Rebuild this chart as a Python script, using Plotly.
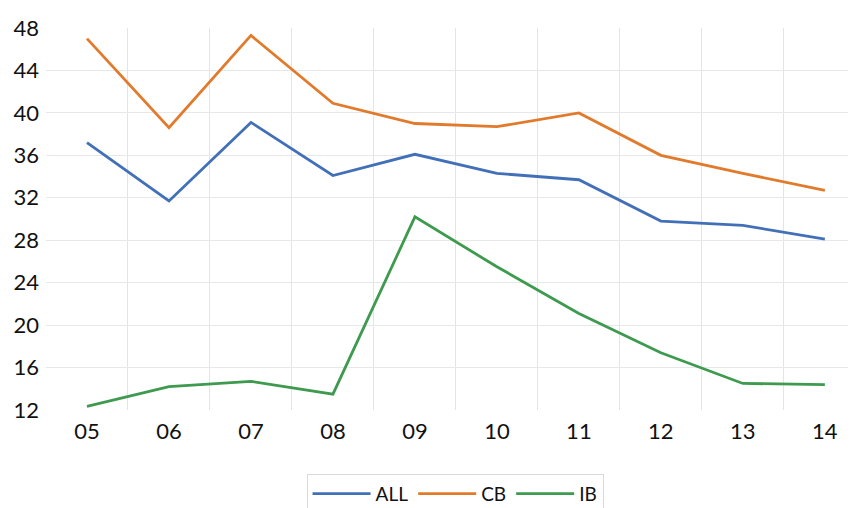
import plotly.graph_objects as go

categories = ["05", "06", "07", "08", "09", "10", "11", "12", "13", "14"]
all_vals = [37.2, 31.7, 39.1, 34.1, 36.1, 34.3, 33.7, 29.8, 29.4, 28.1]
cb_vals = [47.0, 38.6, 47.3, 40.9, 39.0, 38.7, 40.0, 36.0, 34.3, 32.7]
ib_vals = [12.35, 14.2, 14.7, 13.5, 30.2, 25.5, 21.1, 17.4, 14.5, 14.4]
y_ticks = [12, 16, 20, 24, 28, 32, 36, 40, 44, 48]
grid_y = y_ticks[1:-1]

series = [("ALL", all_vals, "#4270B8"), ("CB", cb_vals, "#E27A2C"), ("IB", ib_vals, "#3E9A4F")]
xpos = list(range(len(categories)))
xr = [-0.5, 9.38]
yr = [12, 48]

fig = go.Figure()
# empty trace to host the grid axes
fig.add_trace(go.Scatter(x=[], y=[], xaxis="x2", yaxis="y2", showlegend=False, hoverinfo="skip"))
for name, vals, color in series:
    fig.add_trace(go.Scatter(x=xpos, y=vals, name=name, mode="lines",
                             line=dict(color=color, width=2.8)))

font = "Lato, 'Open Sans', sans-serif"
fig.update_layout(
    width=848, height=500,
    margin=dict(l=38, r=0, t=20, b=98, autoexpand=False),
    plot_bgcolor="white", paper_bgcolor="white",
    font=dict(family=font, color="#111111", size=22),
    showlegend=True,
    legend=dict(orientation="h", x=0.505, xanchor="center", y=-0.167, yanchor="top",
                bordercolor="#D9D9D9", borderwidth=1, font=dict(size=19, family=font),
                itemwidth=58, tracegroupgap=0),
    xaxis=dict(range=xr, tickmode="array", tickvals=xpos, ticktext=categories,
               showgrid=False, zeroline=False, showline=False, ticks="",
               ticklabelstandoff=6, fixedrange=True, automargin=False),
    yaxis=dict(range=yr, tickmode="array", tickvals=y_ticks,
               showgrid=False, zeroline=False, showline=False, ticks="",
               ticklabelstandoff=6, fixedrange=True, automargin=False),
    xaxis2=dict(range=xr, overlaying="x", anchor="y2", tickmode="array",
                tickvals=[i + 0.5 for i in range(len(categories) - 1)],
                showgrid=True, gridcolor="#E4E4E4", gridwidth=1, automargin=False,
                showticklabels=False, zeroline=False, showline=False, ticks=""),
    yaxis2=dict(range=yr, overlaying="y", anchor="x2", tickmode="array", automargin=False,
                tickvals=grid_y, showgrid=True, gridcolor="#E8E8E8", gridwidth=1,
                showticklabels=False, zeroline=False, showline=False, ticks=""),
)

fig.write_html("out.html")
